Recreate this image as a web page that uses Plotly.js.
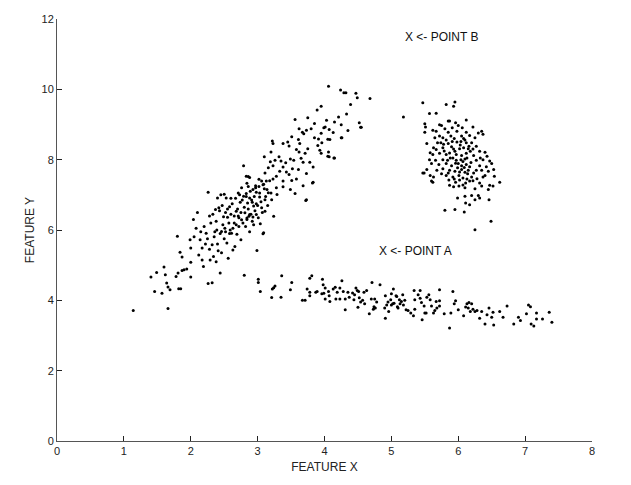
<!DOCTYPE html>
<html>
<head>
<meta charset="utf-8">
<script src="https://cdn.plot.ly/plotly-3.0.1.min.js"></script>
<style>html,body{margin:0;padding:0;background:#fff;}#chart{width:631px;height:485px;}</style>
</head>
<body>
<div id="chart"></div>
<script>
// Diagonal band cluster (x, y pairs)
const diagPts = [
1.14,3.71, 1.66,3.77, 1.405,4.66, 1.49,4.79, 1.46,4.25, 1.57,4.2, 1.60,4.95, 1.62,4.73, 1.64,4.49, 1.66,4.38,
1.69,4.3, 1.78,4.68, 1.80,5.82, 1.81,4.78, 1.82,4.33, 1.85,4.33, 1.84,5.37, 1.87,5.23, 1.87,4.85, 1.90,4.87,
1.94,4.89, 1.99,5.72, 2.0,4.66, 2.0,5.08, 2.0,5.49, 2.04,6.3, 2.05,5.81, 2.08,6.05, 2.10,6.5, 2.12,5.29,
2.14,5.72, 2.17,5.49, 2.17,5.15, 2.19,4.96, 2.23,5.91, 2.26,4.48, 2.26,7.07, 2.28,6.4, 2.29,5.15, 2.32,4.5,
2.32,5.58, 2.35,5.81, 2.37,6.58, 2.40,6.91, 2.39,6.0, 2.42,6.63, 2.44,4.78, 2.45,7.0, 2.46,5.96, 2.41,5.41,
2.49,6.38, 2.50,7.02, 2.51,6.05, 2.53,6.91, 2.54,5.63, 2.55,6.36, 2.56,5.2, 2.58,6.66, 2.59,6.0, 2.61,5.91,
2.63,5.43, 2.65,6.2, 2.66,5.53, 2.68,6.53, 2.69,5.88, 2.71,6.4, 2.72,6.1, 2.74,6.79, 2.75,5.72, 2.76,6.29,
2.79,7.83, 2.79,6.96, 2.81,6.49, 2.82,6.1, 2.84,7.33, 2.85,6.77, 2.86,7.52, 2.87,6.39, 2.88,5.95,
2.20,6.1, 2.25,5.75, 2.30,6.2, 2.33,6.45, 2.36,5.95, 2.38,6.25, 2.43,6.55, 2.44,5.9, 2.47,6.7, 2.48,6.15,
2.52,5.95, 2.55,6.6, 2.57,6.2, 2.58,5.9, 2.60,6.45, 2.62,6.75, 2.63,6.05, 2.65,6.4, 2.67,6.9, 2.68,6.15,
2.70,6.6, 2.72,6.35, 2.73,7.0, 2.75,6.5, 2.77,6.85, 2.78,6.2, 2.80,6.65, 2.83,6.95, 2.84,6.3, 2.86,6.6,
2.89,7.1, 2.90,6.45, 2.91,6.85, 2.92,6.25, 2.95,6.95, 2.96,6.55, 2.97,7.2, 3.0,6.7, 3.01,6.35, 3.03,7.05,
3.05,6.8, 3.07,6.5, 3.09,7.3, 3.12,6.95, 3.14,7.15, 3.15,6.7, 3.18,7.4, 3.20,7.05, 2.28,5.45, 2.34,5.25,
2.40,5.6, 2.46,5.35, 2.50,5.75, 2.38,5.1, 2.22,5.6, 2.15,5.95, 2.52,6.5, 2.60,6.9, 2.71,7.05,
4.06,10.09, 4.24,9.98, 4.29,9.9, 4.32,9.9, 4.47,9.89, 4.49,9.76, 4.68,9.74, 4.39,9.57, 3.95,9.52, 3.89,9.41,
4.33,9.3, 4.21,9.21, 4.52,9.05, 4.54,8.92, 3.75,9.19, 3.56,9.14, 4.03,9.12, 4.15,9.07, 3.85,9.03, 4.25,8.99,
3.99,8.91, 4.01,8.93, 3.62,8.88, 3.80,8.88, 3.73,8.84, 3.67,8.78, 3.69,8.74, 4.13,8.77, 4.35,8.83, 4.07,8.86,
3.95,8.75, 4.05,8.58, 4.08,8.57, 3.51,8.65, 4.25,8.62, 3.85,8.62, 3.91,8.59, 3.61,8.57, 3.22,8.53, 3.23,8.46,
3.45,8.5, 3.38,8.46, 3.47,8.39, 3.63,8.46, 3.96,8.48, 3.90,8.4, 3.58,8.29, 3.75,8.31, 3.93,8.27, 3.62,8.22,
4.06,8.22, 3.20,8.22, 3.95,8.18, 3.71,8.18, 4.07,8.08, 4.15,8.05, 3.10,8.08, 3.32,8.08, 3.65,8.04, 3.49,8.02,
3.26,7.98, 3.19,7.94, 3.35,7.96, 3.42,7.91, 3.54,7.98, 3.68,7.93, 3.78,7.93, 3.83,7.79, 3.23,7.83, 3.16,7.77,
3.38,7.79, 3.61,7.72, 3.52,7.74, 3.11,7.62, 3.33,7.67, 3.43,7.65, 3.47,7.58, 3.73,7.61, 3.28,7.53, 2.83,7.53,
2.88,7.49, 3.02,7.44, 3.06,7.39, 3.13,7.39, 3.23,7.45, 3.38,7.39, 3.51,7.41, 3.58,7.45, 3.82,7.34, 3.68,7.26,
2.76,7.2, 2.86,7.24, 2.97,7.26, 3.02,7.24, 3.08,7.29, 3.10,7.17, 3.28,7.2, 3.38,7.23, 3.49,7.15, 2.93,7.15,
2.83,7.04, 2.98,7.07, 3.16,7.06, 3.29,7.01, 3.56,7.04, 2.88,6.91, 3.03,6.94, 3.11,6.86, 3.21,6.86, 2.92,6.79,
2.98,6.75, 3.73,6.86, 2.94,6.68, 3.06,6.63, 3.11,6.53, 2.88,6.44, 2.98,6.44, 3.24,6.39, 2.84,6.34, 2.93,6.37,
2.94,6.15, 3.04,6.18, 3.08,5.89, 2.99,5.42, 3.09,5.92, 3.72,6.84, 3.83,7.36, 4.05,8.1, 4.14,8.05, 4.26,8.62, 4.55,8.92
];
// Compact cluster near (6, 8)
const blobPts = [
5.18,9.21, 5.47,9.62, 5.57,9.31, 5.67,9.32, 5.82,9.57, 5.93,9.52, 5.95,9.64, 5.85,9.1, 5.87,9.1, 6.12,9.13,
5.5,9.02, 5.51,8.93, 5.5,8.78, 5.72,8.99, 5.75,8.97, 5.96,9.05, 6.0,8.97, 5.91,8.91, 6.06,8.91, 6.22,8.93,
5.62,8.84, 5.67,8.81, 5.8,8.88, 5.85,8.78, 5.98,8.81, 6.12,8.78, 6.35,8.81, 6.37,8.72, 5.72,8.67, 5.77,8.62,
5.89,8.67, 5.94,8.6, 6.05,8.67, 6.17,8.69, 6.25,8.62, 6.3,8.76, 6.1,8.56, 5.82,8.56, 5.69,8.48, 5.74,8.48,
5.85,8.46, 5.98,8.5, 6.12,8.48, 6.2,8.48, 6.27,8.38, 5.53,8.46, 5.63,8.34, 5.67,8.29, 5.77,8.34, 5.9,8.37,
5.95,8.24, 6.02,8.31, 6.08,8.34, 6.15,8.31, 6.18,8.24, 6.32,8.24, 6.4,8.21, 5.62,8.15, 5.72,8.18, 5.82,8.15,
5.87,8.19, 6.05,8.12, 6.12,8.18, 6.23,8.12, 6.43,8.1, 5.57,8.0, 5.66,7.98, 5.77,8.0, 5.92,8.05, 5.97,7.98,
6.1,8.02, 6.27,7.98, 6.37,8.0, 6.47,7.96, 5.6,7.89, 5.71,7.86, 5.82,7.89, 5.9,7.83, 6.0,7.89, 6.05,7.83,
6.12,7.86, 6.17,7.8, 6.32,7.83, 6.42,7.8, 6.5,7.89, 5.53,7.72, 5.68,7.7, 5.77,7.74, 5.87,7.7, 5.95,7.67,
6.05,7.72, 6.1,7.64, 6.15,7.7, 6.23,7.62, 6.35,7.7, 6.45,7.67, 6.53,7.72, 5.49,7.62, 5.58,7.55, 5.63,7.51,
5.82,7.55, 5.92,7.51, 6.01,7.55, 6.07,7.48, 6.2,7.51, 6.28,7.46, 6.37,7.51, 6.54,7.53, 5.6,7.39, 5.86,7.42,
5.96,7.36, 6.02,7.42, 6.11,7.34, 6.17,7.39, 6.32,7.34, 6.47,7.27, 6.62,7.36, 5.87,7.27, 5.93,7.23, 6.01,7.25,
6.1,7.2, 6.25,7.17, 6.35,7.25, 6.52,7.25, 6.45,7.15, 5.99,6.91, 6.1,6.96, 6.2,6.98, 6.3,6.98, 6.25,6.86,
6.11,6.77, 6.17,6.72, 6.32,6.91, 6.46,6.86, 5.8,6.56, 5.95,6.58, 6.09,6.51, 6.49,6.25, 6.25,6.01, 5.62,7.36,
5.47,7.62, 5.88,8.05, 5.93,8.3, 6.03,8.42, 6.07,7.95, 6.13,8.05, 6.14,7.6, 5.99,7.77, 5.84,7.98, 5.79,8.25,
6.16,8.38, 6.22,8.3, 5.97,8.15, 6.04,8.0, 6.09,7.78, 6.19,7.92, 5.75,7.6, 5.85,7.62, 6.02,7.65, 6.13,7.45,
5.94,7.45, 6.27,7.7, 6.22,7.4, 6.07,7.28, 5.78,8.44, 5.91,8.52, 6.08,8.6, 5.65,8.62, 5.58,8.2, 6.33,8.05,
6.4,7.55, 6.04,8.52, 5.96,7.9
];
// Lower, nearly flat band
const lowPts = [
2.8,4.71, 3.01,4.6, 3.01,4.51, 3.04,4.25, 3.26,4.41, 3.22,4.32, 3.24,4.36, 3.21,4.08, 3.36,4.7, 3.35,4.09,
3.51,4.51, 3.49,4.3, 3.67,4.0, 3.71,4.0, 3.74,4.32, 3.78,4.63, 3.81,4.7, 3.78,4.23, 3.78,4.13, 3.87,4.23,
3.89,4.25, 3.97,4.6, 3.98,4.44, 4.01,4.35, 3.99,4.2, 4.01,4.04, 3.96,4.19, 4.06,4.25, 4.07,4.13, 4.08,3.97,
4.13,4.32, 4.16,4.37, 4.17,4.04, 4.19,4.23, 4.23,4.35, 4.23,4.04, 4.26,4.56, 4.28,4.25, 4.31,3.73, 4.31,4.04,
4.35,4.23, 4.37,4.09, 4.42,4.21, 4.44,4.02, 4.45,4.16, 4.47,4.35, 4.49,4.28, 4.51,4.25, 4.5,3.8, 4.52,4.07,
4.54,3.95, 4.57,4.0, 4.59,4.23, 4.63,4.28, 4.6,3.9, 4.67,3.62, 4.7,4.04, 4.71,4.51, 4.73,3.75, 4.74,3.82,
4.75,4.04, 4.76,3.78, 4.78,3.95, 4.83,4.44, 4.9,3.78, 4.91,4.13, 4.91,3.49, 4.93,3.87, 4.95,3.95, 4.96,3.68,
4.99,4.02, 5.0,3.87, 5.03,4.32, 5.04,3.92, 5.08,4.11, 5.09,3.82, 5.0,4.19, 5.02,3.9, 5.07,4.13, 5.12,4.02,
5.13,3.9, 5.15,3.97, 5.17,4.16, 5.18,3.87, 5.2,4.0, 5.22,3.73, 5.1,3.78, 5.25,3.71, 5.29,3.64, 5.33,3.56,
5.34,4.28, 5.35,4.02, 5.35,3.75, 5.4,4.16, 5.43,4.28, 5.43,4.06, 5.45,3.94, 5.46,3.45, 5.49,3.84, 5.5,3.64,
5.52,3.64, 5.53,4.09, 5.56,4.16, 5.58,4.02, 5.6,3.84, 5.63,3.64, 5.65,3.71, 5.67,3.97, 5.68,3.78, 5.72,4.3,
5.72,3.99, 5.72,3.84, 5.79,3.62, 5.87,3.21, 5.89,3.64, 5.92,4.25, 5.94,3.9, 5.96,3.99, 6.0,3.73, 6.08,3.56,
6.11,3.81, 6.13,3.9, 6.15,3.78, 6.16,3.94, 6.18,3.68, 6.2,3.9, 6.22,3.75, 6.25,3.68, 6.28,3.71, 6.32,3.49,
6.35,3.68, 6.4,3.33, 6.43,3.59, 6.46,3.78, 6.5,3.52, 6.52,3.66, 6.53,3.3, 6.62,3.68, 6.67,3.52, 6.73,3.84,
6.83,3.33, 6.9,3.52, 6.93,3.43, 7.02,3.62, 7.05,3.87, 7.08,3.82, 7.09,3.33, 7.13,3.27, 7.17,3.64, 7.17,3.47,
7.26,3.47, 7.36,3.66, 7.4,3.38
];
const xTicks = [0,1,2,3,4,5,6,7,8];
const yTicks = [0,2,4,6,8,10,12];
const labelB = {x: 5.18, y: 11.5, text: 'X &lt;- POINT B'};
const labelA = {x: 4.79, y: 5.41, text: 'X &lt;- POINT A'};

function split(pts){const xs=[],ys=[];for(let i=0;i<pts.length;i+=2){xs.push(pts[i]);ys.push(pts[i+1]);}return {xs,ys};}
const all = diagPts.concat(blobPts, lowPts);
const s = split(all);

const FONT = '"Liberation Sans", Arial, sans-serif';
const trace = {x: s.xs, y: s.ys, type: 'scatter', mode: 'markers',
  marker: {size: 3, color: '#000', symbol: 'circle', line: {width: 0}}, hoverinfo: 'skip'};

const axisCommon = {showgrid: false, zeroline: false, showline: true, linecolor: '#555', linewidth: 1,
  ticks: 'inside', ticklen: 5, tickcolor: '#222', tickwidth: 1, mirror: false,
  tickfont: {family: FONT, size: 11, color: '#222'}};

const layout = {
  width: 631, height: 485,
  margin: {l: 57, r: 39, t: 19, b: 44, pad: 0},
  paper_bgcolor: '#fff', plot_bgcolor: '#fff',
  showlegend: false,
  font: {family: FONT, size: 11, color: '#222'},
  xaxis: Object.assign({}, axisCommon, {range: [0, 8], tickvals: xTicks, ticktext: xTicks.map(String),
    title: {text: 'FEATURE X', font: {family: FONT, size: 12, color: '#222'}, standoff: 6}}),
  yaxis: Object.assign({}, axisCommon, {range: [0, 12], tickvals: yTicks, ticktext: yTicks.map(String),
    title: {text: 'FEATURE Y', font: {family: FONT, size: 12, color: '#222'}, standoff: 4}}),
  annotations: [labelB, labelA].map(a => ({x: a.x, y: a.y, xref: 'x', yref: 'y', text: a.text,
    showarrow: false, xanchor: 'left', yanchor: 'middle', font: {family: FONT, size: 12, color: '#111'}}))
};
Plotly.newPlot('chart', [trace], layout, {displayModeBar: false, staticPlot: true});
</script>
</body>
</html>
